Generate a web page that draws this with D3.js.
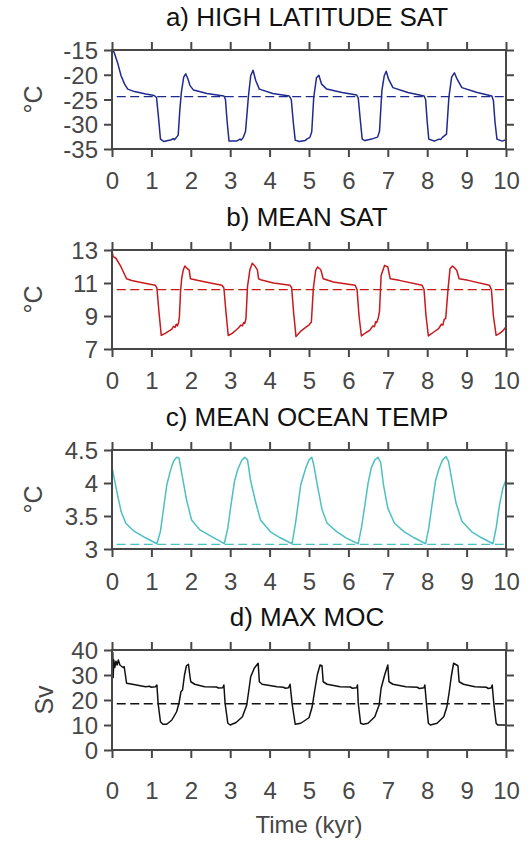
<!DOCTYPE html>
<html><head><meta charset="utf-8">
<script src="https://cdn.jsdelivr.net/npm/d3@7"></script>
<style>body{margin:0;background:#fff}</style></head>
<body>
<svg id="chart" width="531" height="841"></svg>
<script>
// ---- data (time in kyr) ----
const xTicks = [0,1,2,3,4,5,6,7,8,9,10];

const hiLatTicks = [-35,-30,-25,-20,-15];
const hiLatMean = -24.4;
const hiLatSAT = [[0,-15.0],[0.05,-15.4],[0.15,-17.8],[0.23,-20.2],[0.32,-21.9],[0.40,-22.9],[0.57,-23.4],[0.86,-23.9],[1.07,-24.2],[1.13,-24.6],[1.18,-28.6],[1.23,-33.0],[1.32,-33.5],[1.42,-33.3],[1.49,-33.2],[1.55,-32.9],[1.58,-33.1],[1.62,-32.8],[1.68,-32.2],[1.72,-27.3],[1.76,-23.6],[1.82,-20.5],[1.87,-19.8],[1.93,-20.9],[1.98,-22.2],[2.07,-23.1],[2.41,-23.8],[2.84,-24.3],[2.88,-25.0],[2.92,-29.3],[2.97,-33.4],[3.16,-33.4],[3.25,-33.0],[3.28,-33.2],[3.33,-32.7],[3.39,-31.4],[3.46,-24.6],[3.52,-20.2],[3.58,-19.1],[3.65,-21.2],[3.74,-22.9],[4.08,-23.8],[4.50,-24.3],[4.55,-25.0],[4.60,-29.5],[4.65,-33.2],[4.75,-33.5],[4.90,-33.3],[4.96,-32.9],[5.02,-32.7],[5.07,-31.5],[5.12,-24.6],[5.19,-20.6],[5.25,-20.1],[5.32,-21.9],[5.45,-22.9],[5.84,-23.6],[6.21,-24.1],[6.25,-24.7],[6.30,-29.0],[6.35,-33.0],[6.42,-33.3],[6.59,-33.0],[6.66,-32.8],[6.74,-32.6],[6.79,-31.4],[6.85,-23.2],[6.91,-20.2],[6.96,-19.3],[7.02,-20.9],[7.13,-22.6],[7.51,-23.6],[7.92,-24.3],[7.96,-25.0],[8.00,-29.5],[8.04,-33.0],[8.18,-33.4],[8.30,-33.0],[8.34,-33.1],[8.38,-32.7],[8.49,-32.0],[8.55,-24.6],[8.62,-20.5],[8.69,-19.6],[8.76,-20.9],[8.88,-22.6],[9.27,-23.6],[9.64,-24.3],[9.68,-25.2],[9.72,-29.5],[9.77,-33.0],[9.90,-33.4],[10.0,-33.1]];

const meanSatTicks = [7,9,11,13];
const meanSatMean = 10.6;
const meanSAT = [[0,12.95],[0.03,12.6],[0.1,12.5],[0.23,11.97],[0.37,11.26],[0.5,11.15],[0.8,11.0],[1.10,10.86],[1.14,10.7],[1.19,9.3],[1.25,7.83],[1.35,7.95],[1.45,8.1],[1.52,8.2],[1.56,8.38],[1.60,8.3],[1.63,8.5],[1.66,8.4],[1.69,8.6],[1.71,8.94],[1.74,10.5],[1.77,11.3],[1.81,11.8],[1.85,12.03],[1.92,11.85],[1.96,11.78],[1.99,11.26],[2.19,11.15],[2.5,11.0],[2.79,10.86],[2.84,10.7],[2.89,9.3],[2.95,7.82],[3.05,7.95],[3.15,8.15],[3.22,8.3],[3.27,8.45],[3.31,8.4],[3.34,8.6],[3.37,8.55],[3.40,8.85],[3.44,10.8],[3.50,11.8],[3.56,12.2],[3.62,12.05],[3.69,11.8],[3.72,11.26],[3.77,11.2],[4.1,11.0],[4.52,10.86],[4.56,10.7],[4.61,9.2],[4.67,7.75],[4.8,8.1],[4.94,8.35],[5.0,8.45],[5.06,8.64],[5.11,10.66],[5.17,11.77],[5.22,11.97],[5.30,11.8],[5.36,11.26],[5.62,11.06],[6.17,10.86],[6.22,10.6],[6.27,9.0],[6.33,7.79],[6.45,8.0],[6.54,8.13],[6.62,8.4],[6.66,8.35],[6.69,8.65],[6.72,8.6],[6.76,8.9],[6.79,9.3],[6.83,11.46],[6.92,12.07],[7.0,11.97],[7.04,11.5],[7.06,11.26],[7.29,11.16],[7.87,10.86],[7.92,10.6],[7.97,9.0],[8.03,7.79],[8.15,8.0],[8.29,8.23],[8.36,8.5],[8.40,8.45],[8.43,8.8],[8.47,8.85],[8.53,10.66],[8.58,11.87],[8.64,12.03],[8.70,11.9],[8.75,11.77],[8.81,11.26],[9.04,11.16],[9.58,10.86],[9.63,10.6],[9.68,9.0],[9.75,7.83],[9.83,7.93],[9.92,8.1],[10.0,8.35]];

const oceanTicks = [3,3.5,4,4.5];
const oceanMean = 3.07;
const meanOceanTemp = [[0,4.24],[0.14,3.82],[0.23,3.57],[0.35,3.39],[0.56,3.27],[0.85,3.17],[1.14,3.08],[1.23,3.27],[1.31,3.62],[1.39,3.97],[1.48,4.18],[1.56,4.33],[1.64,4.39],[1.70,4.38],[1.79,4.08],[1.89,3.75],[2.02,3.44],[2.23,3.29],[2.52,3.19],[2.85,3.08],[2.94,3.32],[3.02,3.67],[3.11,4.03],[3.19,4.20],[3.29,4.34],[3.37,4.39],[3.44,4.35],[3.52,4.03],[3.65,3.70],[3.77,3.44],[4.02,3.26],[4.27,3.17],[4.57,3.08],[4.66,3.40],[4.79,3.97],[4.92,4.23],[5.0,4.35],[5.07,4.39],[5.12,4.28],[5.21,3.97],[5.33,3.60],[5.46,3.39],[5.71,3.26],[5.96,3.16],[6.25,3.08],[6.33,3.32],[6.42,3.67],[6.5,4.0],[6.58,4.23],[6.67,4.35],[6.75,4.39],[6.82,4.31],[6.89,3.97],[7.0,3.62],[7.17,3.39],[7.42,3.26],[7.67,3.17],[7.96,3.08],[8.04,3.32],[8.13,3.70],[8.21,4.03],[8.29,4.20],[8.39,4.35],[8.48,4.40],[8.54,4.33],[8.63,4.03],[8.73,3.70],[8.88,3.42],[9.13,3.26],[9.38,3.17],[9.67,3.08],[9.75,3.32],[9.83,3.65],[9.92,3.92],[10.0,4.05]];

const mocTicks = [0,10,20,30,40];
const mocMean = 18.5;
const maxMOC = [[0,23],[0.01,33],[0.02,39],[0.03,29],[0.045,36],[0.07,33],[0.1,35.5],[0.13,34],[0.16,36],[0.2,34],[0.24,33.5],[0.28,33],[0.31,33.3],[0.37,26.7],[0.52,26.3],[0.85,25.3],[0.95,25.5],[1.0,25.1],[1.10,25.3],[1.14,26],[1.17,18.7],[1.23,11.3],[1.29,10.3],[1.39,10.3],[1.52,12],[1.64,15.3],[1.70,18.7],[1.75,23.3],[1.79,24],[1.84,30],[1.89,33.7],[1.94,34.3],[1.98,29.3],[2.0,27.3],[2.10,26.3],[2.35,25.3],[2.65,25.2],[2.7,24.8],[2.81,24.9],[2.84,26],[2.87,18.7],[2.94,10.7],[3.0,10],[3.15,11],[3.31,13.3],[3.42,18],[3.48,24.7],[3.52,29.3],[3.61,32.7],[3.71,34.7],[3.74,27.3],[3.81,26.3],[4.19,25.3],[4.35,25.1],[4.40,24.7],[4.48,24.9],[4.52,26.3],[4.57,18.7],[4.65,10.3],[4.79,10.7],[5.0,12.9],[5.08,17.3],[5.14,23.3],[5.21,30],[5.28,34],[5.33,33.7],[5.36,27.3],[5.46,26.3],[5.79,25.3],[6.05,25.2],[6.1,24.7],[6.21,24.9],[6.23,26],[6.25,18.7],[6.31,10.7],[6.38,10.3],[6.5,10.7],[6.67,13.3],[6.78,18],[6.83,24.7],[6.92,30],[7.0,34],[7.03,27.3],[7.13,26.3],[7.46,25.3],[7.75,25.1],[7.8,24.6],[7.92,24.9],[7.94,26],[7.98,18.7],[8.03,10.7],[8.08,10],[8.25,10.7],[8.42,13.3],[8.5,17.3],[8.56,23.3],[8.61,29.3],[8.67,34.7],[8.78,33.7],[8.81,27.3],[8.92,26.3],[9.21,25.3],[9.5,25.1],[9.55,24.6],[9.63,24.9],[9.65,26],[9.69,18.7],[9.75,10.7],[9.79,10],[10.0,10]];

const titles = ["a) HIGH LATITUDE SAT","b) MEAN SAT","c) MEAN OCEAN TEMP","d) MAX MOC"];
const yLabels = ["°C","°C","°C","Sv"];
const xLabel = "Time (kyr)";

// ---- drawing ----
const FONT = "'Liberation Sans', Arial, Helvetica, sans-serif";
const AX = "#474747";
const svg = d3.select("#chart");
const x = d3.scaleLinear().domain([0,10]).range([112,506]);
const plain = d => String(d);

const panels = [
  {data: hiLatSAT, ticks: hiLatTicks, mean: hiLatMean, domain:[-35,-15], top:50, bottom:149, lab:40, color:"#1f2a8c"},
  {data: meanSAT, ticks: meanSatTicks, mean: meanSatMean, domain:[7,13], top:250, bottom:349, lab:40, color:"#c8191c"},
  {data: meanOceanTemp, ticks: oceanTicks, mean: oceanMean, domain:[3,4.5], top:450, bottom:549, lab:41, color:"#4cc0c2"},
  {data: maxMOC, ticks: mocTicks, mean: mocMean, domain:[0,40], top:650, bottom:750, lab:49, color:"#111111"}
];

function styleAxis(g){
  g.select(".domain").remove();
  g.selectAll(".tick line").attr("stroke",AX).attr("stroke-width",2);
  g.selectAll("text").attr("fill",AX).style("font-family",FONT).style("font-size","24px");
}

panels.forEach((p,i)=>{
  const y = d3.scaleLinear().domain(p.domain).range([p.bottom,p.top]);
  const g = svg.append("g");

  // data line
  g.append("path").datum(p.data)
    .attr("d", d3.line().x(d=>x(d[0])).y(d=>y(d[1])))
    .attr("fill","none").attr("stroke",p.color).attr("stroke-width",1.5)
    .attr("stroke-linejoin","round");

  // mean dashed line
  g.append("path").datum([[0.12,p.mean],[10,p.mean]])
    .attr("d", d3.line().x(d=>x(d[0])).y(d=>y(d[1])))
    .attr("fill","none").attr("stroke",p.color).attr("stroke-width",1.3)
    .attr("stroke-dasharray","9,4.5");

  // axes
  const gb = g.append("g").attr("transform",`translate(0,${p.bottom})`)
    .call(d3.axisBottom(x).tickValues(xTicks).tickSize(8).tickFormat(plain));
  styleAxis(gb);
  gb.selectAll("text").attr("y",p.lab).attr("dy",0);

  const gt = g.append("g").attr("transform",`translate(0,${p.top})`)
    .call(d3.axisTop(x).tickValues(xTicks).tickSize(8).tickFormat(""));
  styleAxis(gt);

  const gl = g.append("g").attr("transform",`translate(${x(0)},0)`)
    .call(d3.axisLeft(y).tickValues(p.ticks).tickSize(8).tickPadding(6).tickFormat(plain));
  styleAxis(gl);
  gl.selectAll("text").attr("dy","0.36em");

  const gr = g.append("g").attr("transform",`translate(${x(10)},0)`)
    .call(d3.axisRight(y).tickValues(p.ticks).tickSize(8).tickFormat(""));
  styleAxis(gr);

  // frame
  g.append("rect").attr("x",x(0)).attr("y",p.top)
    .attr("width",x(10)-x(0)).attr("height",p.bottom-p.top)
    .attr("fill","none").attr("stroke",AX).attr("stroke-width",2);

  // title
  g.append("text").attr("x",307).attr("y",p.top-24)
    .attr("text-anchor","middle").attr("fill","#111")
    .style("font-family",FONT).style("font-size","26px").text(titles[i]);

  // y label
  const cy = (p.top+p.bottom)/2;
  const lx = i===3 ? 53 : 42;
  g.append("text").attr("transform",`translate(${lx},${cy}) rotate(-90)`)
    .attr("text-anchor","middle").attr("fill",AX)
    .style("font-family",FONT).style("font-size","25px").text(yLabels[i]);
});

svg.append("text").attr("x",309).attr("y",833).attr("text-anchor","middle")
  .attr("fill",AX).style("font-family",FONT).style("font-size","24px").text(xLabel);
</script>
</body></html>
